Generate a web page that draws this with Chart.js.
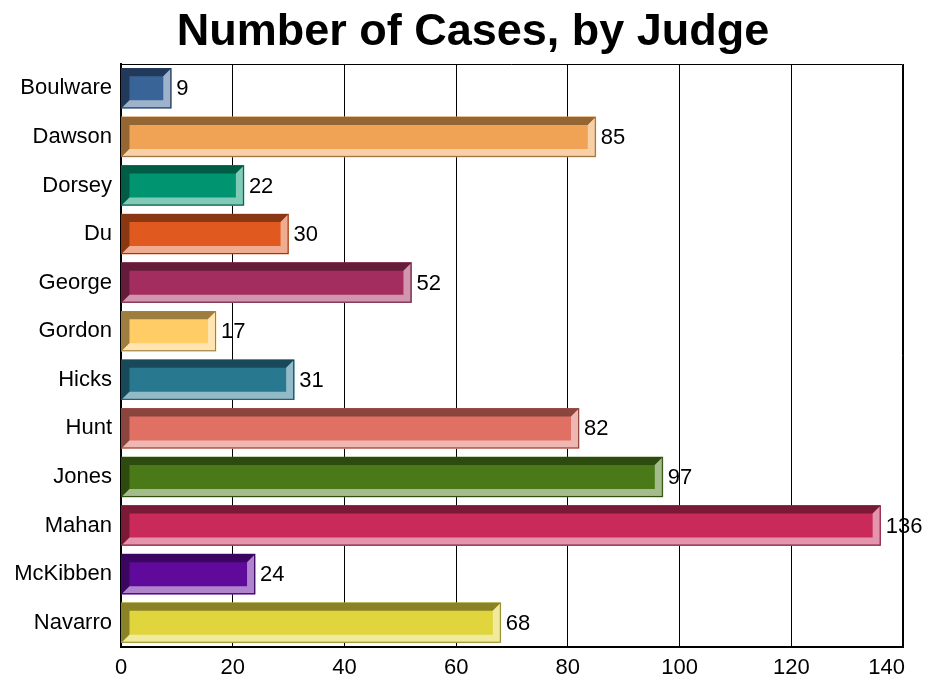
<!DOCTYPE html>
<html>
<head>
<meta charset="utf-8">
<title>Number of Cases, by Judge</title>
<script src="https://cdn.jsdelivr.net/npm/chart.js@4.4.1/dist/chart.umd.min.js"></script>
<style>
  html, body { margin: 0; padding: 0; background: #fff; }
  #wrap { width: 930px; height: 683px; position: relative; }
</style>
</head>
<body>
<div id="wrap"><canvas id="judgeChart"></canvas></div>
<script>
const judges = ["Boulware", "Dawson", "Dorsey", "Du", "George", "Gordon", "Hicks", "Hunt", "Jones", "Mahan", "McKibben", "Navarro"];
const cases = [9, 85, 22, 30, 52, 17, 31, 82, 97, 136, 24, 68];
const xTicks = [0, 20, 40, 60, 80, 100, 120, 140];
const chartTitle = "Number of Cases, by Judge";

// face / dark bevel / light bevel colours
const faceColors  = ["#386498", "#f0a354", "#009470", "#e05a20", "#a32d5e", "#ffcc66", "#287890", "#e07064", "#4a7a18", "#c92a5a", "#600a9c", "#e1d53d"];
const darkColors  = ["#22395a", "#946634", "#005c44", "#8a3814", "#641c3a", "#9e7e40", "#18495a", "#8a453e", "#2e4b0f", "#7a1a36", "#3a0660", "#8a8226"];
const lightColors = ["#9eb2cc", "#f8d0a8", "#80cab7", "#f0ac90", "#d196ae", "#ffe5b2", "#93bbc7", "#efb7b1", "#a4bc8b", "#e494ac", "#af84cd", "#f0ea9e"];

const FONT = "'Liberation Sans', Arial, Helvetica, sans-serif";

// title, centred a little right of the canvas middle like the original
const titlePlugin = {
  id: "titleText",
  afterDraw(chart) {
    const ctx = chart.ctx;
    ctx.save();
    ctx.fillStyle = "#000";
    ctx.font = "bold 45px " + FONT;
    ctx.textAlign = "center";
    ctx.textBaseline = "alphabetic";
    ctx.fillText(chartTitle, 473, 45);
    ctx.restore();
  }
};

// frame around the plot area (top + right edges)
const frame = {
  id: "frame",
  beforeDatasetsDraw(chart) {
    const a = chart.chartArea, ctx = chart.ctx;
    ctx.save();
    ctx.strokeStyle = "#000";
    ctx.lineWidth = 1;
    ctx.beginPath();
    ctx.moveTo(a.left, a.top + 0.5);
    ctx.lineTo(a.right - 0.5, a.top + 0.5);
    ctx.lineTo(a.right - 0.5, a.bottom);
    ctx.stroke();
    ctx.restore();
  }
};

// x tick labels: last one kept inside the plot edge, like the original
const xLabels = {
  id: "xLabels",
  afterDraw(chart) {
    const ctx = chart.ctx, sx = chart.scales.x;
    ctx.save();
    ctx.fillStyle = "#000";
    ctx.font = "22px " + FONT;
    ctx.textBaseline = "middle";
    xTicks.forEach((v, i) => {
      const px = sx.getPixelForValue(v);
      ctx.textAlign = i === xTicks.length - 1 ? "right" : "center";
      ctx.fillText(String(v), i === xTicks.length - 1 ? px + 2 : px, chart.chartArea.bottom + 21);
    });
    ctx.restore();
  }
};

// bevelled bars + value labels
const bevel = {
  id: "bevel",
  afterDatasetsDraw(chart) {
    const ctx = chart.ctx;
    const meta = chart.getDatasetMeta(0);
    meta.data.forEach((bar, i) => {
      const p = bar.getProps(["x", "y", "base", "height"], true);
      const left = p.base, right = p.x;
      const top = p.y - p.height / 2, bottom = p.y + p.height / 2;
      const b = Math.min(8, (right - left) / 2);
      ctx.save();
      ctx.fillStyle = darkColors[i];
      ctx.beginPath();
      ctx.moveTo(left, top);
      ctx.lineTo(right, top);
      ctx.lineTo(right - b, top + b);
      ctx.lineTo(left + b, top + b);
      ctx.lineTo(left + b, bottom - b);
      ctx.lineTo(left, bottom);
      ctx.closePath();
      ctx.fill();
      ctx.fillStyle = lightColors[i];
      ctx.beginPath();
      ctx.moveTo(right, top);
      ctx.lineTo(right, bottom);
      ctx.lineTo(left, bottom);
      ctx.lineTo(left + b, bottom - b);
      ctx.lineTo(right - b, bottom - b);
      ctx.lineTo(right - b, top + b);
      ctx.closePath();
      ctx.fill();
      ctx.strokeStyle = darkColors[i];
      ctx.lineWidth = 1;
      ctx.strokeRect(left, top + 0.5, right - left - 0.5, bottom - top - 1);

      ctx.fillStyle = "#000";
      ctx.font = "22px " + FONT;
      ctx.textAlign = "left";
      ctx.textBaseline = "middle";
      ctx.fillText(String(cases[i]), right + 5, p.y + 1);
      ctx.restore();
    });
  }
};

new Chart(document.getElementById("judgeChart"), {
  type: "bar",
  data: {
    labels: judges,
    datasets: [{
      label: "Cases",
      data: cases,
      backgroundColor: faceColors,
      borderWidth: 0,
      barThickness: 40
    }]
  },
  options: {
    indexAxis: "y",
    responsive: true,
    maintainAspectRatio: false,
    animation: false,
    layout: { padding: { left: 0, right: 27, top: 64, bottom: 0 } },
    plugins: {
      legend: { display: false },
      tooltip: { enabled: false },
      title: { display: false }
    },
    scales: {
      x: {
        min: 0,
        max: 140,
        afterBuildTicks(scale) { scale.ticks = xTicks.map(v => ({ value: v })); },
        afterFit(scale) { scale.height = 36; },
        ticks: { display: false },
        grid: { color: "#000", lineWidth: 1, drawTicks: false, tickLength: 0 },
        border: { color: "#000", width: 2 }
      },
      y: {
        afterFit(scale) { scale.width = 121; },
        ticks: { color: "#000", font: { family: FONT, size: 22 }, padding: 9 },
        grid: { display: false, drawTicks: false, tickLength: 0 },
        border: { color: "#000", width: 2 }
      }
    }
  },
  plugins: [frame, bevel, xLabels, titlePlugin]
});
</script>
</body>
</html>
